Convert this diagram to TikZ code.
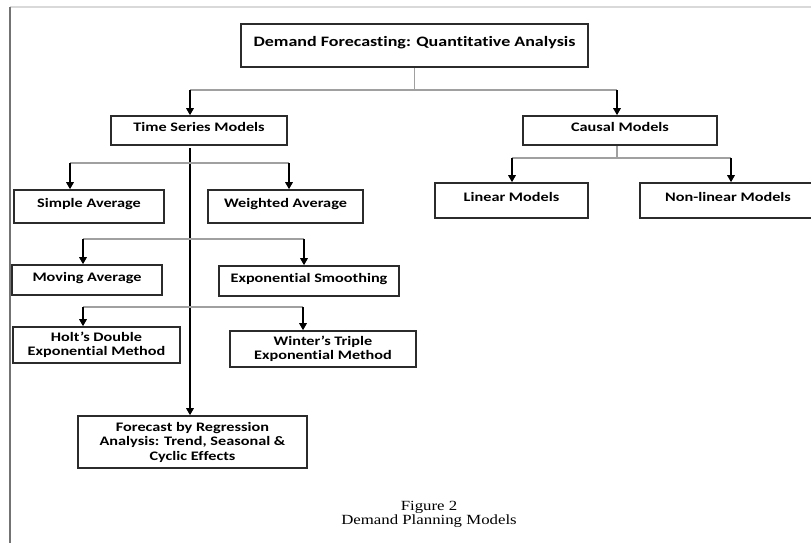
\documentclass[tikz,border=0pt]{standalone}
\usepackage{fontspec}
\setmainfont[FakeStretch=1.25, Ligatures=NoCommon]{Carlito}
\newfontfamily\capfont[FakeStretch=1.2]{Liberation Serif}
\usetikzlibrary{arrows.meta}
\definecolor{boxline}{HTML}{2B2B2B}
\definecolor{connline}{HTML}{A0A0A0}

\begin{document}
\begin{tikzpicture}[x=1pt,y=-1pt,
  box/.style={draw=boxline, line width=1.6pt, inner sep=0pt, align=center,
    font=\bfseries\fontsize{13}{14.5}\selectfont},
  oneline/.style={text height=9pt, text depth=7pt},
  arr/.style={draw=black, line width=1.5pt, -{Triangle[length=7pt,width=7.5pt]}},
  conn/.style={draw=connline, line width=1.2pt},
  frame/.style={line width=1.8pt}
]
\useasboundingbox (0,0) rectangle (811,543);

% page frame
\draw[frame, draw=black!15] (10,7) -- (811,7);
\draw[frame, draw=black!55] (10,7) -- (10,543);

% boxes
\node[box, oneline, minimum width=347pt, minimum height=43pt,
  font=\bfseries\fontsize{14.4}{16}\selectfont] (root) at (414.5,45.5)
  {Demand Forecasting: Quantitative Analysis};
\node[box, oneline, minimum width=176pt, minimum height=29pt] (ts) at (199,130.5) {Time Series Models};
\node[box, oneline, minimum width=194pt, minimum height=29pt] (causal) at (620,130.5) {Causal Models};
\node[box, oneline, minimum width=153pt, minimum height=35pt] (lin) at (511.5,200.5) {Linear Models};
\node[box, oneline, minimum width=176pt, minimum height=35pt] (nonlin) at (728,200.5) {Non-linear Models};
\node[box, oneline, minimum width=150pt, minimum height=33pt] (simple) at (89,206.5) {Simple Average};
\node[box, oneline, minimum width=155pt, minimum height=33pt] (weighted) at (285.5,206.5) {Weighted Average};
\node[box, oneline, minimum width=150pt, minimum height=30pt] (moving) at (87,280) {Moving Average};
\node[box, oneline, minimum width=180pt, minimum height=30pt] (expo) at (309,281) {Exponential Smoothing};
\node[box, minimum width=167pt, minimum height=36pt] (holt) at (96.5,345)
  {Holt’s Double\\Exponential Method};
\node[box, minimum width=186pt, minimum height=36pt] (winter) at (323,349)
  {Winter’s Triple\\Exponential Method};
\node[box, minimum width=229pt, minimum height=52pt] (forecast) at (192.5,442)
  {Forecast by Regression\\Analysis: Trend, Seasonal \&\\Cyclic Effects};

% root split
\coordinate (rj) at (root.south |- 0,90);
\coordinate (ja) at (190,90);
\coordinate (jb) at (617,90);
\draw[conn] (root.south) -- (rj);
\draw[conn] (ja) -- (jb);
\draw[arr] (ja) -- (ja |- ts.north);
\draw[arr] (jb) -- (jb |- causal.north);

% causal split
\coordinate (cj) at (617,158);
\coordinate (ca) at (512,158);
\coordinate (cb) at (731,158);
\draw[conn] (causal.south -| cj) -- (cj);
\draw[conn] (ca) -- (cb);
\draw[arr] (ca) -- (ca |- lin.north);
\draw[arr] (cb) -- (cb |- nonlin.north);

% time series trunk
\coordinate (tsb) at (190,148);
\draw[arr] (tsb) -- (tsb |- forecast.north);

% averages
\coordinate (sa) at (70,163);
\coordinate (sb) at (289,163);
\draw[conn] (sa) -- (sb);
\draw[arr] (sa) -- (sa |- simple.north);
\draw[arr] (sb) -- (sb |- weighted.north);

% moving / exponential smoothing
\coordinate (ma) at (83,239);
\coordinate (mb) at (304,239);
\draw[conn] (ma) -- (mb);
\draw[arr] (ma) -- (ma |- moving.north);
\draw[arr] (mb) -- (mb |- expo.north);

% Holt / Winter
\coordinate (ha) at (83,307);
\coordinate (hb) at (303,307);
\draw[conn] (ha) -- (hb);
\draw[arr] (ha) -- (ha |- holt.north);
\draw[arr] (hb) -- (hb |- winter.north);

% caption
\node[font=\capfont\fontsize{14}{14.5}\selectfont, align=center] (cap) at (429,514.5)
  {Figure 2\\Demand Planning Models};
\end{tikzpicture}
\end{document}
